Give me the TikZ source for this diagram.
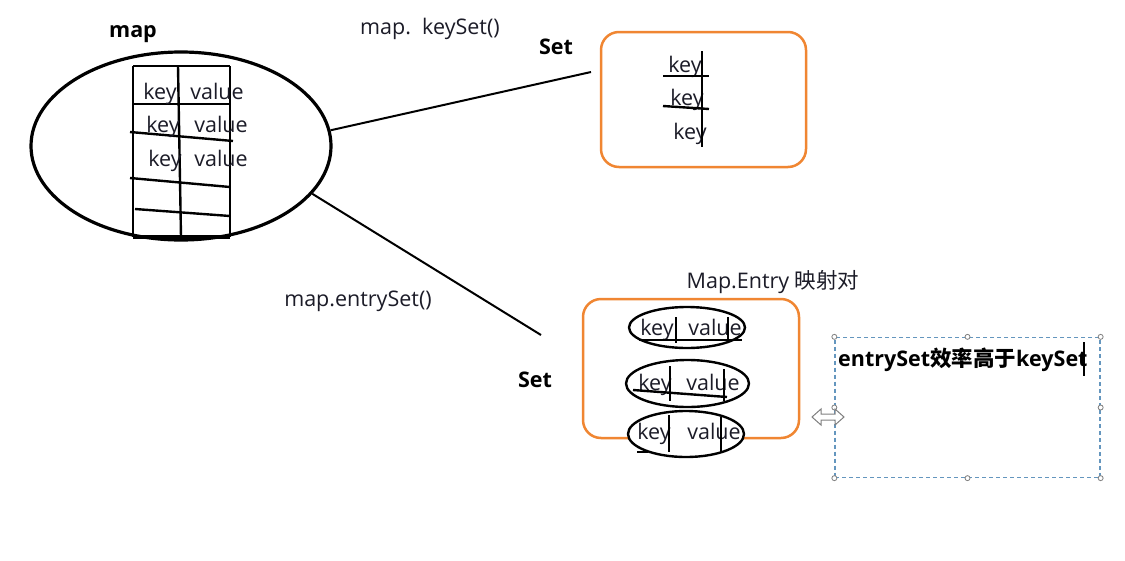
\documentclass[tikz,border=0pt]{standalone}
\usepackage{fontspec}
\setmainfont{Open Sans}
\newfontfamily\cjk{Noto Sans CJK SC}
\usetikzlibrary{shapes.geometric}
\definecolor{ink}{RGB}{28,28,40}
\definecolor{boxorange}{RGB}{240,134,50}
\definecolor{dashblue}{RGB}{100,150,190}
\tikzset{
  lbl/.style={font=\fontsize{21.5}{24}\selectfont, text=ink, inner sep=0pt, text height=15pt, text depth=5pt},
  blbl/.style={font=\fontsize{21.5}{24}\selectfont\bfseries, text=black, inner sep=0pt, text height=15pt, text depth=5pt},
  grid/.style={line width=2.4pt, black},
  conn/.style={line width=2pt, black},
  obox/.style={draw=boxorange, line width=2.5pt, rounded corners=18pt, inner sep=0pt},
  pair/.style={draw=black, fill=white, ellipse, line width=2.4pt, inner sep=0pt},
  handle/.style={draw=gray, fill=white, line width=0.8pt, circle, inner sep=0pt, minimum size=5pt}
}
\begin{document}
\begin{tikzpicture}[x=1pt,y=-1pt]
\useasboundingbox[fill=white] (0,0) rectangle (1125,560);

% ---- map ellipse with table
\node[blbl] (maplbl) at (133,32) {map};
\node[draw=black, ellipse, line width=3.2pt, inner sep=0pt,
      minimum width=300pt, minimum height=188pt] (mapell) at (181,146) {};
\draw[grid] (133,66) -- (230,66);
\draw[grid] (133,104) -- (230,104);
\draw[grid] (130,132) -- (233,141);
\draw[grid] (130,178) -- (230,187);
\draw[grid] (135,209) -- (230,216);
\draw[line width=3.2pt] (133,237) -- (230,237);
\draw[grid] (133,66) -- (133,237);
\draw[grid] (178,66) -- (181,237);
\draw[grid] (230,66) -- (230,237);
\node[lbl] (k1) at (160,94) {key};
\node[lbl] (v1) at (217,94) {value};
\node[lbl] (k2) at (163,127) {key};
\node[lbl] (v2) at (221,127) {value};
\node[lbl] (k3) at (165,161) {key};
\node[lbl] (v3) at (221,161) {value};

% ---- keySet
\node[lbl] (kscall) at (430,29) {map.\ \ keySet()};
\node[blbl] (set1) at (556,49) {Set};
\node[obox, minimum width=205pt, minimum height=135pt] (ksbox) at (703.5,99.5) {};
\node[lbl] (kk1) at (685,67) {key};
\node[lbl] (kk2) at (687,100) {key};
\node[lbl] (kk3) at (690,134) {key};
\draw[grid] (702,51) -- (702,147);
\draw[grid] (663,76) -- (709,76);
\draw[grid] (663,106) -- (709,109);
\coordinate (ksend) at (591,72);
\draw[conn] (mapell.6) -- (ksend);

% ---- entrySet
\node[lbl] (escall) at (358,301) {map.entrySet()};
\node[blbl] (set2) at (535,382) {Set};
\node[lbl] (entrylbl) at (773,283) {Map.Entry {\cjk 映射对}};
\node[obox, minimum width=216pt, minimum height=139pt] (esbox) at (691,368.5) {};
\coordinate (esend) at (541,335);
\draw[conn] (mapell.-20) -- (esend);

\node[pair, minimum width=116pt, minimum height=41pt] (e1) at (687,327.5) {};
\node[lbl] (ek1) at (657,330) {key};
\node[lbl] (ev1) at (715,330) {value};
\draw[grid] (676,317) -- (676,343);
\draw[grid] (728,317) -- (728,343);
\draw[grid] (639,340) -- (742,340);

\node[pair, minimum width=123pt, minimum height=47pt] (e2) at (687.5,383.5) {};
\node[lbl] (ek2) at (655,385) {key};
\node[lbl] (ev2) at (713,385) {value};
\draw[grid] (670,366) -- (670,401);
\draw[grid] (724,369) -- (724,401);
\draw[grid] (633,390) -- (727,397);

\node[pair, minimum width=116pt, minimum height=46pt] (e3) at (686,434) {};
\node[lbl] (ek3) at (654,434) {key};
\node[lbl] (ev3) at (714,434) {value};
\draw[grid] (669,415) -- (669,452);
\draw[grid] (721,417) -- (721,453);
\draw[grid] (637,452) -- (648,452);

% ---- selected text box
\node[draw=dashblue, dash pattern=on 4pt off 3pt, line width=1.3pt, minimum width=265pt, minimum height=140pt, inner sep=0pt] (tb) at (967.5,407.5) {};
\foreach \p in {north west,north,north east,east,south east,south,south west,west}
  \node[handle] at (tb.\p) {};
\node[blbl, anchor=west] (eff) at (838,361) {entrySet{\cjk\bfseries 效率高于}keySet};
\draw[black, line width=1.2pt] (1084,342) -- (1084,376);

% ---- resize cursor
\draw[gray, fill=white, line width=1pt]
  (812,417) -- (821,409) -- (821,414) -- (835,414) -- (835,409) -- (844,417)
  -- (835,425) -- (835,420) -- (821,420) -- (821,425) -- cycle;
\end{tikzpicture}
\end{document}
